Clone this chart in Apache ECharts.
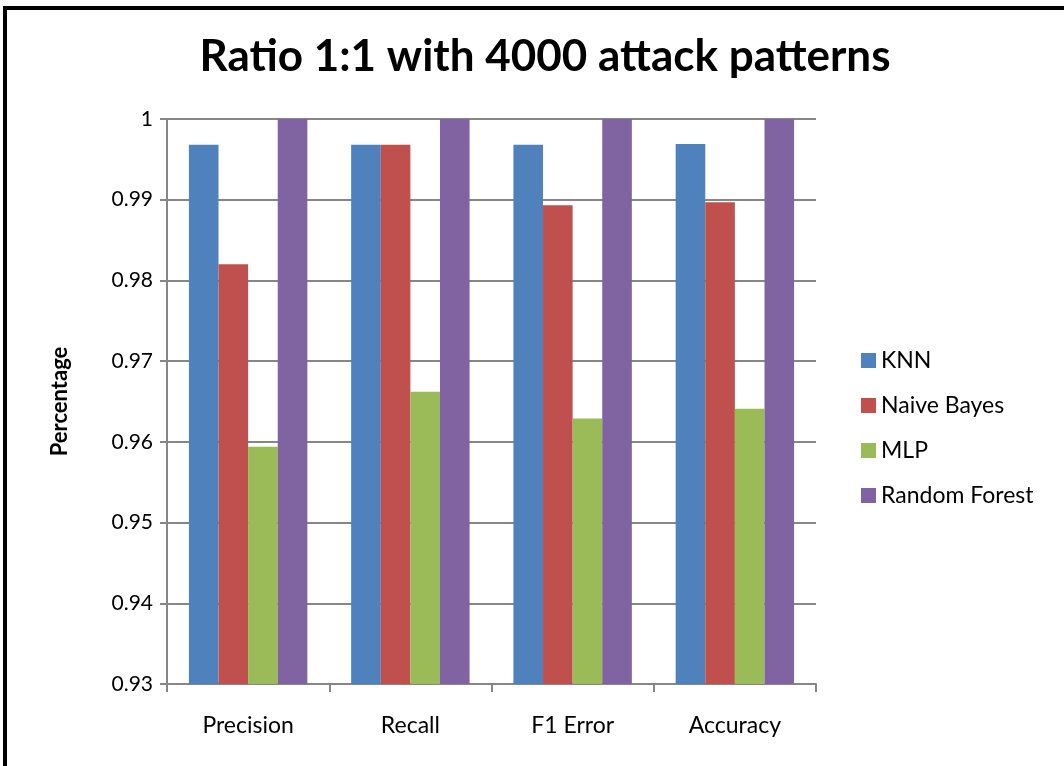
<!DOCTYPE html>
<html><head><meta charset="utf-8">
<script src="https://cdn.jsdelivr.net/npm/echarts@6/dist/echarts.min.js"></script>
<style>html,body{margin:0;padding:0;background:#fff}#c{width:1064px;height:766px}</style>
</head><body><div id="c"></div>
<script>
const categories = ['Precision', 'Recall', 'F1 Error', 'Accuracy'];
const knn = [0.9968, 0.9968, 0.9968, 0.9969];
const naiveBayes = [0.9820, 0.9968, 0.9893, 0.9897];
const mlp = [0.9594, 0.9662, 0.9629, 0.9641];
const randomForest = [1, 1, 1, 1];
const seriesNames = ['KNN', 'Naive Bayes', 'MLP', 'Random Forest'];
const colors = ['#4F81BD', '#C0504D', '#9BBB59', '#8064A2'];
const FONT = 'Lato';

const chart = echarts.init(document.getElementById('c'));
const data = [knn, naiveBayes, mlp, randomForest];
chart.setOption({
  animation: false,
  title: {
    text: 'Ratio 1:1 with 4000 attack patterns',
    left: 540, top: 30, textAlign: 'center',
    textStyle: {fontFamily: FONT, fontWeight: 'bold', fontSize: 44, color: '#000'}
  },
  graphic: [{
    type: 'rect', shape: {x: 5, y: 8, width: 1100, height: 800},
    style: {fill: 'none', stroke: '#000', lineWidth: 4}, z: 100
  }],
  legend: {
    orient: 'vertical', left: 856, top: 344, itemGap: 22,
    itemWidth: 15, itemHeight: 15, icon: 'rect',
    textStyle: {fontFamily: FONT, fontSize: 23, color: '#000', padding: [0,0,0,0]},
    data: seriesNames
  },
  grid: {left: 167, right: 248, top: 119, bottom: 82},
  xAxis: {
    type: 'category', data: categories,
    axisLine: {lineStyle: {color: '#868686', width: 2}},
    axisTick: {show: true, length: 8, lineStyle: {color: '#868686', width: 2}},
    axisLabel: {fontFamily: FONT, fontSize: 23, color: '#000', margin: 30}
  },
  yAxis: {
    type: 'value', min: 0.93, max: 1, interval: 0.01,
    name: 'Percentage', nameLocation: 'middle', nameGap: 96, nameRotate: 90,
    nameTextStyle: {fontFamily: FONT, fontWeight: 'bold', fontSize: 22, color: '#000'},
    axisLine: {show: true, lineStyle: {color: '#868686', width: 2}},
    axisTick: {show: true, length: 7, lineStyle: {color: '#868686', width: 2}},
    axisLabel: {fontFamily: FONT, fontSize: 21, color: '#000', margin: 14,
      formatter: v => String(parseFloat(v.toFixed(2)))},
    splitLine: {lineStyle: {color: '#868686', width: 2}}
  },
  series: data.map((d, i) => ({
    name: seriesNames[i], type: 'bar', data: d,
    itemStyle: {color: colors[i]},
    barGap: '0%', barCategoryGap: '27%'
  }))
});
</script></body></html>
